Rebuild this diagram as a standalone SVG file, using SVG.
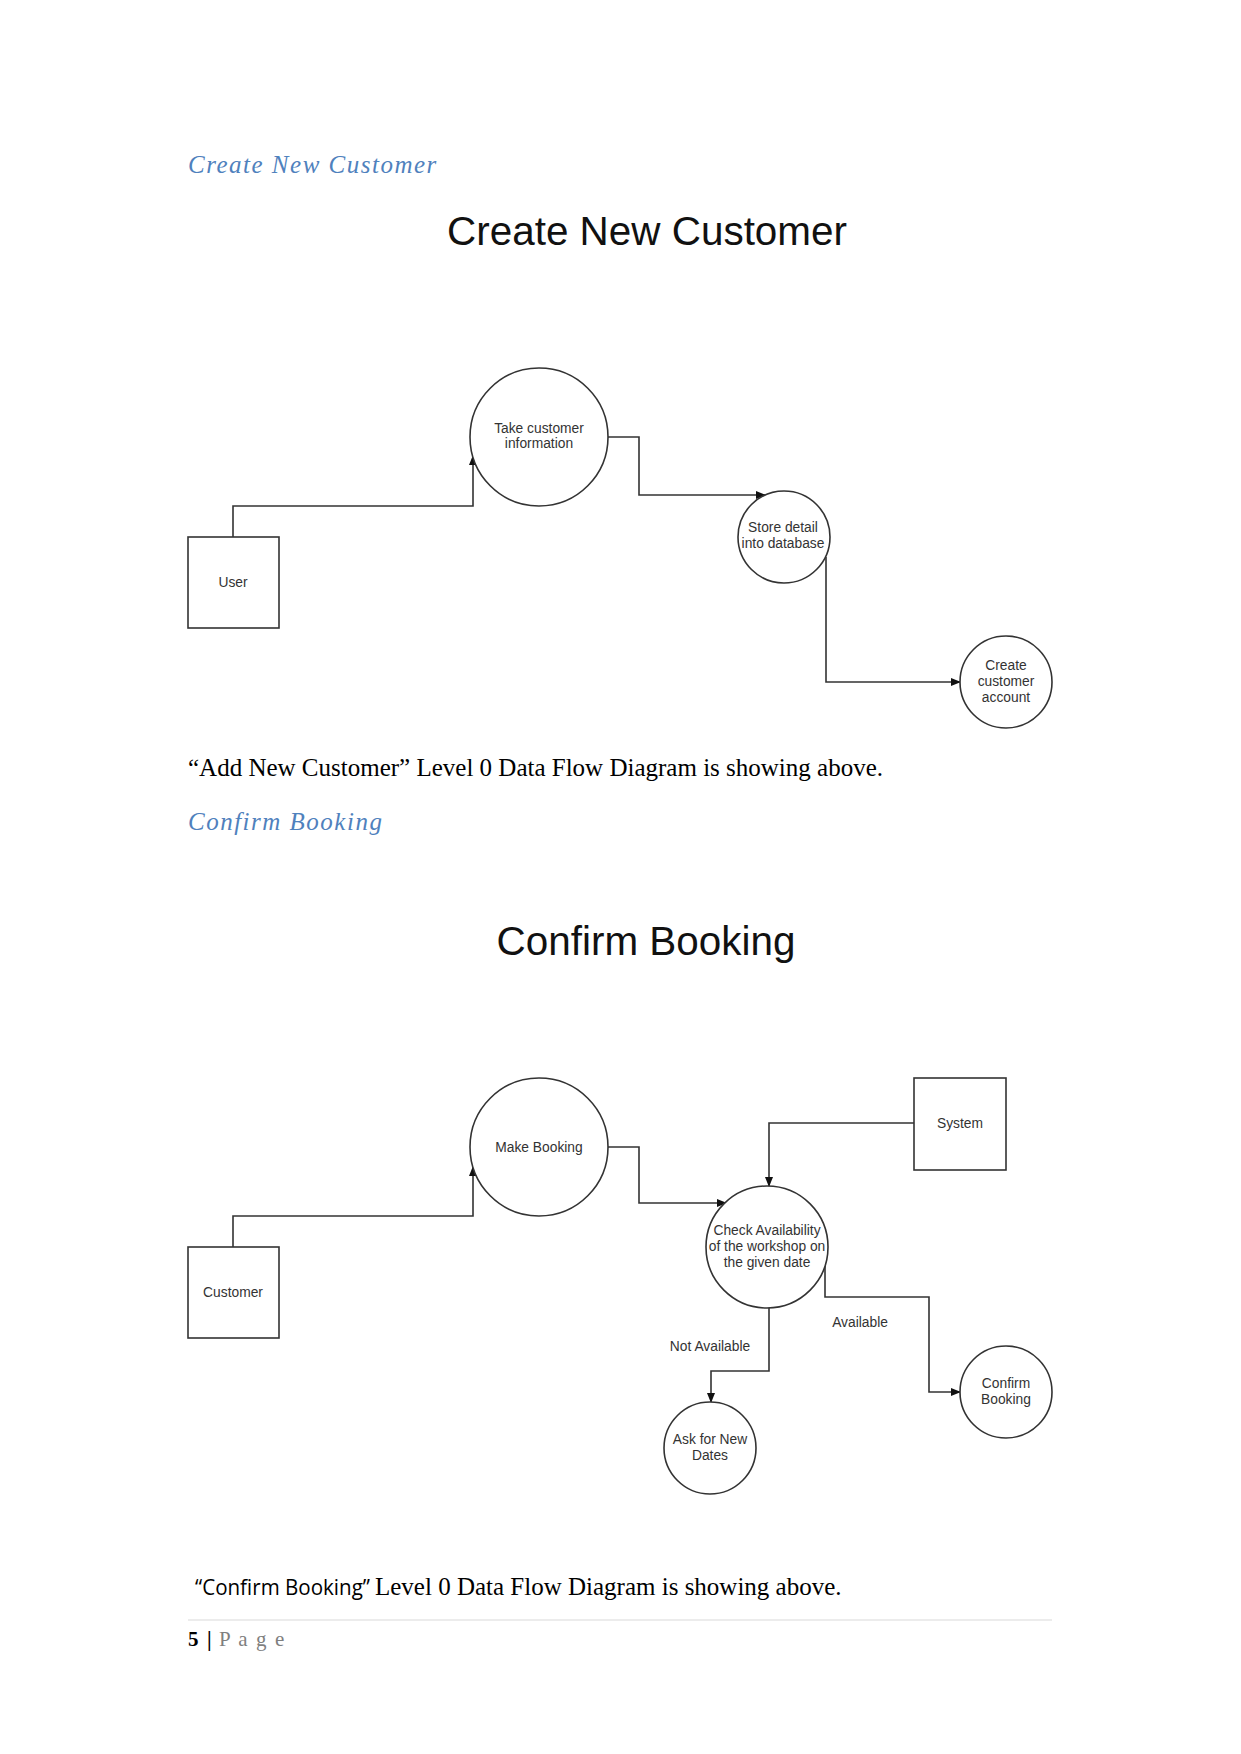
<svg xmlns="http://www.w3.org/2000/svg" width="1241" height="1754" viewBox="0 0 1241 1754">
<style>
.bg{fill:#ffffff}
.h{font-family:"Liberation Serif",serif;font-style:italic;font-size:25px;fill:#4F81BD;letter-spacing:1.5px}
.body{font-family:"Liberation Serif",serif;font-size:25px;fill:#000}
.title{font-family:"Liberation Sans",Arial,sans-serif;font-size:40px;fill:#111;text-anchor:middle}
.proc{fill:#fff;stroke:#333;stroke-width:1.6}
.ent{fill:#fff;stroke:#333;stroke-width:1.6}
.lbl{font-family:"Liberation Sans",Arial,sans-serif;font-size:13.8px;fill:#333;text-anchor:middle}
.flow{fill:none;stroke:#333;stroke-width:1.6}
</style>
<defs>
<marker id="arr" markerWidth="10" markerHeight="8" refX="9" refY="4" orient="auto" markerUnits="userSpaceOnUse">
<path d="M0,0 L10,4 L0,8 Z" fill="#111"/>
</marker>
</defs>
<rect class="bg" x="0" y="0" width="1241" height="1754"/>

<!-- Page text -->
<text class="h" x="188" y="173">Create New Customer</text>
<text class="title" x="647" y="245" textLength="400" lengthAdjust="spacingAndGlyphs">Create New Customer</text>
<text class="body" x="188" y="776">“Add New Customer” Level 0 Data Flow Diagram is showing above.</text>
<text class="h" x="188" y="830">Confirm Booking</text>
<text class="title" x="646" y="955" textLength="299" lengthAdjust="spacingAndGlyphs">Confirm Booking</text>
<text x="195" y="1595" font-family="'Open Sans','Liberation Sans',sans-serif" font-size="22" fill="#000" textLength="175" lengthAdjust="spacingAndGlyphs">“Confirm Booking”</text>
<text class="body" x="375" y="1595">Level 0 Data Flow Diagram is showing above.</text>
<line x1="188" y1="1620" x2="1052" y2="1620" stroke="#d9d9d9" stroke-width="1.2"/>
<text x="188" y="1646" font-family="'Liberation Serif',serif" font-size="21" font-weight="bold" fill="#000">5</text>
<text x="207" y="1646" font-family="'Liberation Serif',serif" font-size="21" font-weight="bold" fill="#000">|</text>
<text x="219" y="1646" font-family="'Liberation Serif',serif" font-size="21" fill="#7f7f7f" letter-spacing="1.6">P a g e</text>

<!-- Diagram 1: Create New Customer -->
<g id="connectors-1">
<polyline class="flow" points="233,537 233,506 473,506 473,456" marker-end="url(#arr)"/>
<polyline class="flow" points="608,437 639,437 639,495 765,495" marker-end="url(#arr)"/>
<polyline class="flow" points="826,557 826,682 960,682" marker-end="url(#arr)"/>
</g>
<g id="node-user">
<rect class="ent" x="188" y="537" width="91" height="91"/>
<text class="lbl" x="233" y="587">User</text>
</g>
<g id="node-take-info">
<circle class="proc" cx="539" cy="437" r="69"/>
<text class="lbl" x="539" y="433">Take customer</text>
<text class="lbl" x="539" y="448">information</text>
</g>
<g id="node-store">
<circle class="proc" cx="784" cy="537" r="46"/>
<text class="lbl" x="783" y="532">Store detail</text>
<text class="lbl" x="783" y="548">into database</text>
</g>
<g id="node-create-account">
<circle class="proc" cx="1006" cy="682" r="46"/>
<text class="lbl" x="1006" y="670">Create</text>
<text class="lbl" x="1006" y="686">customer</text>
<text class="lbl" x="1006" y="702">account</text>
</g>

<!-- Diagram 2: Confirm Booking -->
<g id="connectors-2">
<polyline class="flow" points="233,1247 233,1216 473,1216 473,1167" marker-end="url(#arr)"/>
<polyline class="flow" points="608,1147 639,1147 639,1203 726,1203" marker-end="url(#arr)"/>
<polyline class="flow" points="914,1123 769,1123 769,1186" marker-end="url(#arr)"/>
<polyline class="flow" points="825,1266 825,1297 929,1297 929,1392 960,1392" marker-end="url(#arr)"/>
<polyline class="flow" points="769,1308 769,1371 711,1371 711,1402" marker-end="url(#arr)"/>
<text class="lbl" x="860" y="1327">Available</text>
<text class="lbl" x="710" y="1351">Not Available</text>
</g>
<g id="node-customer">
<rect class="ent" x="188" y="1247" width="91" height="91"/>
<text class="lbl" x="233" y="1297">Customer</text>
</g>
<g id="node-make-booking">
<circle class="proc" cx="539" cy="1147" r="69"/>
<text class="lbl" x="539" y="1152">Make Booking</text>
</g>
<g id="node-system">
<rect class="ent" x="914" y="1078" width="92" height="92"/>
<text class="lbl" x="960" y="1128">System</text>
</g>
<g id="node-check">
<circle class="proc" cx="767" cy="1247" r="61"/>
<text class="lbl" x="767" y="1235">Check Availability</text>
<text class="lbl" x="767" y="1251">of the workshop on</text>
<text class="lbl" x="767" y="1267">the given date</text>
</g>
<g id="node-confirm">
<circle class="proc" cx="1006" cy="1392" r="46"/>
<text class="lbl" x="1006" y="1388">Confirm</text>
<text class="lbl" x="1006" y="1404">Booking</text>
</g>
<g id="node-ask">
<circle class="proc" cx="710" cy="1448" r="46"/>
<text class="lbl" x="710" y="1444">Ask for New</text>
<text class="lbl" x="710" y="1460">Dates</text>
</g>
</svg>
